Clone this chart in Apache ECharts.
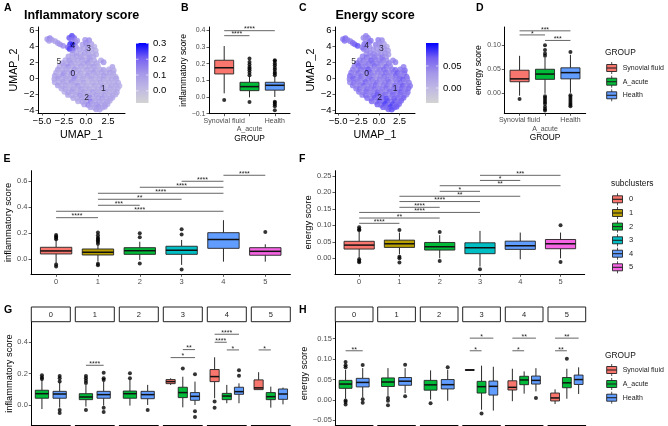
<!DOCTYPE html>
<html><head><meta charset="utf-8">
<style>html,body{margin:0;padding:0;background:#fff}#c{width:668px;height:426px;filter:blur(.4px)}</style>
<script src="https://cdn.jsdelivr.net/npm/echarts@6/dist/echarts.min.js"></script>
</head><body><div id="c"></div>
<script>
// ---------- data ----------
const groupNames = ['Synovial fluid', 'A_acute', 'Health'];
const groupColors = ['#F8766D', '#00BA38', '#619CFF'];
const clusterNames = ['0', '1', '2', '3', '4', '5'];
const clusterColors = ['#F8766D', '#B79F00', '#00BA38', '#00BFC4', '#619CFF', '#F564E3'];

// UMAP cells: [UMAP_1, UMAP_2, inflammatory score, energy score]
const umapCells = [
[-4.4,4.95,.12,.055],[-4.1,5.05,.15,.065],[-4.2,4.72,.11,.06],[-3.85,4.85,.1,.05],[-3.5,4.68,.09,.05],[-3.2,4.45,.11,.06],[-2.95,4.28,.12,.065],[-2.6,4.1,.14,.075],
[-1.6,5.35,.24,.05],[-1.9,5.1,.22,.045],[-1.35,5.1,.2,.05],[-1.65,4.85,.17,.04],[-1.2,4.55,.15,.05],[-1.0,4.75,.12,.055],[-1.8,4.3,.26,.06],[-1.5,4.2,.27,.05],[-2.05,3.9,.2,.05],[-1.15,3.95,.14,.04],[-1.85,3.7,.24,.055],[-1.5,3.55,.2,.045],
[-.1,4.85,.12,.05],[.35,4.8,.14,.045],[-.4,4.25,.1,.05],[0,4.45,.13,.04],[.6,4.35,.09,.03],[.15,4.1,.11,.035],[.95,4.0,.05,.02],[-.7,3.65,.09,.04],[-.25,3.8,.08,.035],[.2,3.6,.1,.03],[.65,3.72,.07,.035],[1.1,3.5,.05,.03],
[-1.55,3.1,.1,.04],[-1.1,3.2,.08,.045],[-.6,3.05,.07,.05],[-.15,3.18,.11,.04],[.3,3.02,.09,.035],[.75,3.15,.06,.04],[1.15,3.0,.06,.03],
[-2.0,2.75,.09,.05],[-1.5,2.62,.07,.06],[-1.05,2.78,.1,.045],[-.55,2.66,.08,.05],[-.05,2.75,.06,.04],[.4,2.62,.09,.05],[.85,2.72,.07,.035],
[-2.35,2.3,.07,.05],[-1.9,2.22,.11,.055],[-1.4,2.36,.06,.04],[-.95,2.25,.08,.065],[-.45,2.34,.09,.05],[0,2.2,.07,.045],[.5,2.33,.1,.055],[.95,2.24,.06,.04],[1.7,2.25,.07,.045],[2.0,2.02,.12,.05],
[-2.7,1.92,.09,.06],[-2.2,1.82,.06,.05],[-1.75,1.95,.1,.04],[-1.25,1.84,.07,.055],[-.8,1.93,.05,.06],[-.3,1.85,.08,.045],[.2,1.96,.11,.05],[.65,1.84,.06,.04],[1.2,1.9,.08,.05],
[-3.0,1.5,.07,.05],[-2.5,1.58,.09,.065],[-2.0,1.44,.13,.045],[-1.55,1.56,.07,.05],[-1.05,1.46,.05,.04],[-.55,1.55,.09,.06],[-.1,1.43,.06,.05],[.4,1.54,.08,.035],[.9,1.46,.1,.06],[1.35,1.55,.06,.045],[3.0,1.45,.09,.05],
[-3.2,1.1,.1,.05],[-2.7,1.02,.06,.04],[-2.25,1.15,.08,.06],[-1.8,1.04,.05,.055],[-1.3,1.12,.11,.07],[-.85,1.03,.07,.045],[-.35,1.14,.05,.04],[.15,1.05,.09,.05],[.6,1.12,.06,.06],[1.1,1.02,.08,.04],[1.6,1.13,.05,.05],[2.0,1.05,.1,.065],[2.6,1.12,.07,.055],[3.15,1.0,.06,.06],
[-3.4,.7,.08,.055],[-2.95,.78,.05,.045],[-2.5,.64,.1,.06],[-2.05,.74,.07,.04],[-1.55,.66,.14,.05],[-1.1,.76,.06,.065],[-.6,.64,.08,.035],[-.15,.75,.04,.05],[.35,.66,.07,.045],[.85,.74,.1,.06],[1.3,.63,.05,.04],[1.75,.76,.08,.055],[2.25,.66,.06,.07],[2.7,.74,.09,.05],[3.1,.64,.07,.06],
[-3.55,.3,.09,.06],[-3.1,.22,.06,.05],[-2.6,.35,.12,.045],[-2.15,.24,.05,.06],[-1.7,.33,.08,.04],[-1.2,.22,.1,.055],[-.75,.34,.06,.05],[-.3,.24,.05,.035],[.2,.32,.09,.045],[.65,.22,.04,.06],[1.15,.34,.07,.05],[1.6,.25,.05,.04],[2.05,.33,.1,.065],[2.55,.22,.07,.05],[3.0,.34,.06,.045],[3.35,.2,.05,.06],
[-3.6,-.1,.07,.05],[-3.15,-.02,.1,.065],[-2.7,-.16,.05,.045],[-2.25,-.04,.08,.055],[-1.8,-.14,.06,.04],[-1.3,-.03,.13,.05],[-.85,-.16,.05,.06],[-.35,-.05,.07,.035],[.1,-.14,.04,.05],[.6,-.03,.08,.045],[1.05,-.16,.05,.055],[1.55,-.04,.06,.04],[2.0,-.15,.09,.05],[2.5,-.03,.04,.06],[2.95,-.16,.07,.07],[3.45,-.06,.08,.05],
[-3.55,-.5,.08,.045],[-3.05,-.58,.06,.06],[-2.6,-.44,.09,.05],[-2.1,-.56,.05,.04],[-1.65,-.46,.11,.065],[-1.2,-.57,.07,.05],[-.7,-.44,.05,.045],[-.25,-.56,.09,.055],[.25,-.45,.03,.04],[.7,-.57,.06,.05],[1.2,-.46,.05,.06],[1.65,-.56,.08,.035],[2.15,-.44,.04,.05],[2.6,-.55,.06,.065],[3.1,-.46,.05,.05],[3.65,-.56,.07,.055],
[-3.2,-.9,.1,.055],[-2.75,-.97,.06,.04],[-2.3,-.84,.08,.05],[-1.85,-.96,.05,.065],[-1.35,-.85,.07,.045],[-.9,-.96,.12,.05],[-.4,-.84,.05,.06],[.05,-.97,.06,.035],[.55,-.85,.04,.05],[1.0,-.95,.08,.055],[1.5,-.86,.05,.04],[1.95,-.97,.07,.06],[2.45,-.84,.04,.05],[2.9,-.95,.06,.07],[3.4,-.86,.08,.05],[3.8,-.95,.05,.055],
[-2.8,-1.3,.07,.05],[-2.35,-1.38,.09,.06],[-1.9,-1.24,.05,.04],[-1.45,-1.36,.08,.055],[-1.0,-1.26,.06,.05],[-.5,-1.37,.1,.065],[-.05,-1.25,.05,.045],[.4,-1.36,.07,.05],[.9,-1.24,.04,.06],[1.35,-1.37,.06,.04],[1.85,-1.26,.09,.055],[2.3,-1.36,.05,.05],[2.8,-1.25,.07,.065],[3.25,-1.37,.05,.045],[3.6,-1.27,.06,.06],
[-2.45,-1.7,.06,.055],[-2.0,-1.77,.08,.04],[-1.55,-1.64,.1,.06],[-1.05,-1.76,.05,.05],[-.6,-1.65,.07,.045],[-.15,-1.77,.09,.065],[.35,-1.64,.05,.05],[.8,-1.76,.11,.04],[1.3,-1.65,.06,.06],[1.75,-1.76,.05,.05],[2.2,-1.64,.08,.055],[2.7,-1.75,.06,.07],[3.15,-1.66,.05,.05],[3.5,-1.76,.07,.06],
[-2.05,-2.1,.09,.05],[-1.6,-2.16,.06,.06],[-1.1,-2.04,.07,.045],[-.65,-2.15,.12,.055],[-.2,-2.05,.06,.07],[.3,-2.16,.08,.05],[.75,-2.04,.05,.06],[1.2,-2.15,.1,.045],[1.7,-2.05,.06,.065],[2.15,-2.16,.09,.05],[2.6,-2.04,.05,.06],[3.05,-2.15,.07,.055],[3.35,-2.05,.06,.05],
[-1.45,-2.5,.08,.06],[-1.0,-2.56,.06,.05],[-.5,-2.44,.09,.07],[-.05,-2.55,.07,.05],[.45,-2.45,.13,.06],[.9,-2.56,.06,.075],[1.4,-2.44,.08,.05],[1.85,-2.55,.11,.065],[2.3,-2.45,.06,.06],[2.75,-2.56,.08,.05],[3.0,-2.46,.07,.065],
[-.9,-2.9,.07,.065],[-.4,-2.96,.1,.05],[.05,-2.84,.08,.07],[.55,-2.95,.16,.06],[1.0,-2.85,.07,.075],[1.5,-2.96,.1,.06],[1.95,-2.85,.06,.07],[2.4,-2.95,.09,.055],[2.7,-2.85,.07,.065],
[-.2,-3.3,.09,.07],[.25,-3.36,.14,.06],[.75,-3.24,.08,.08],[1.2,-3.35,.11,.06],[1.7,-3.26,.07,.075],[2.15,-3.36,.1,.06],[2.45,-3.25,.08,.065],
[.5,-3.65,.1,.07],[.95,-3.7,.08,.06],[1.4,-3.6,.12,.08],[1.85,-3.7,.08,.065],[2.15,-3.6,.09,.07],[1.15,-3.92,.1,.065],[1.55,-3.95,.09,.075]
];
const umapLabelNames = ['0', '1', '2', '3', '4', '5'];
const umapLabelPosA = [[-1.5,.54],[1.96,-1.26],[.08,-2.48],[.3,3.7],[-1.5,4.07],[-3.09,2.09]];
const umapLabelPosC = [[-1.5,.54],[1.96,-1.26],[.08,-2.48],[.3,3.7],[-1.5,4.07],[-3.09,2.09]];
const umapXTicks = [-5, -2.5, 0, 2.5];
const umapYTicks = [-4, -2, 0, 2, 4, 6];
const inflBarTicks = [0, .1, .2, .3];
const energyBarTicks = [0, .05];

// boxes: [low whisker, q1, median, q3, high whisker]
const bBoxes = [[.022,.138,.175,.22,.305],[-.002,.038,.062,.088,.125],[0,.041,.07,.088,.125]];
const bOutliers = [[-.018],[-.03,.13,.145,.16,.17,.18,.195,.21,.23],[-.08,-.055,-.045,-.035,-.028,.13,.14,.15,.165,.175,.19,.2,.215,.22]];
const bBrackets = [[0,2,.397,'****'],[0,1,.367,'****']];
const dBoxes = [[-.005,.024,.03,.048,.078],[-.001,.029,.04,.05,.074],[.001,.03,.043,.053,.08]];
const dOutliers = [[-.012],[-.036,-.033,-.028,-.022,-.018,-.014,-.01,-.006,.078,.083,.09,.1],[-.027,-.024,-.02,-.016,-.012,-.008,-.004,.086]];
const dBrackets = [[0,2,.13,'***'],[0,1,.1215,'*'],[1,2,.11,'***']];

const eBoxes = [[-.03,.041,.064,.092,.148],[-.018,.033,.054,.079,.11],[-.005,.038,.066,.089,.135],[-.043,.038,.069,.1,.148],[-.018,.084,.151,.204,.30],[-.018,.031,.061,.089,.115]];
const eOutliers = [[-.055,-.04,.153,.165,.175,.186],[-.045,-.035,.12,.135,.145,.155,.165,.185,.205],[-.033,.168,.2],[-.079,.19,.23],[],[.21]];
const eBrackets = [[0,1,.319,'****'],[0,4,.368,'****'],[1,2,.414,'***'],[1,3,.46,'**'],[1,4,.506,'****'],[2,4,.552,'****'],[3,4,.598,'****'],[4,5,.644,'****']];

const fBoxes = [[0,.028,.04,.0515,.08],[.012,.033,.044,.055,.078],[0,.025,.035,.048,.07],[-.025,.014,.032,.047,.083],[-.003,.027,.038,.052,.078],[0,.029,.044,.057,.078]];
const fOutliers = [[-.012,-.008,-.003,.085,.088,.094],[-.013,0,.005,.086],[-.008,.08],[-.033],[],[-.011,.1]];
const fBrackets = [[0,1,.106,'****'],[0,2,.122,'**'],[0,3,.139,'****'],[1,2,.1545,'****'],[1,3,.172,'****'],[1,4,.188,'**'],[2,3,.203,'*'],[2,5,.22,'**'],[3,4,.236,'*'],[3,5,.2515,'***']];

const facetGroups = [[1,2],[1,2],[1,2],[0,1,2],[0,1,2],[0,1,2]];
const gBoxes = [
 [[-.026,.043,.072,.094,.16],[-.017,.043,.07,.087,.145]],
 [[-.01,.034,.051,.072,.128],[-.004,.043,.066,.087,.149]],
 [[-.004,.043,.072,.089,.16],[0,.04,.066,.087,.128]],
 [[.128,.136,.149,.162,.17],[-.015,.047,.079,.113,.18],[0,.03,.055,.079,.149]],
 [[.043,.149,.181,.226,.304],[.011,.034,.057,.074,.128],[.011,.068,.085,.113,.138]],
 [[.098,.098,.109,.16,.209],[-.017,.034,.053,.079,.117],[.004,.036,.07,.102,.111]]
];
const gOutliers = [
 [[.165,.175,.19],[-.051,-.032,.15,.17,.185]],
 [[-.032,.14,.155,.17,.185],[-.045,-.017,.16,.17,.206]],
 [[.17,.202],[-.032]],
 [[],[.232],[-.077,-.04,.196]],
 [[-.017,.023],[],[.187,.221]],
 [[],[],[]]
];
const gBrackets = [[],[[0,1,.253,'****']],[],[[0,2,.302,'*'],[1,2,.353,'**']],[[0,1,.4,'****'],[0,2,.451,'****'],[1,2,.351,'*']],[[0,1,.351,'*']]];
const hBoxes = [
 [[.003,.0285,.039,.048,.074],[.0065,.032,.043,.053,.078]],
 [[.009,.033,.044,.054,.078],[.017,.036,.046,.055,.078]],
 [[.001,.024,.037,.048,.0725],[-.002,.027,.0375,.05,.074]],
 [[.0725,.0725,.0733,.0745,.0745],[-.024,.017,.0326,.0456,.084],[-.026,.012,.0334,.0464,.0814]],
 [[-.003,.0244,.031,.047,.0765],[.0155,.0375,.049,.058,.07],[.021,.039,.048,.0586,.078]],
 [[-.01,-.0024,.005,.017,.026],[.003,.03,.042,.055,.0765],[.0147,.038,.05,.061,.08]]
];
const hOutliers = [
 [[-.011,-.005,-.001,.08,.085,.093],[-.0065,.002,.0855]],
 [[-.013,-.002,.005],[.009,.086]],
 [[-.008],[.08]],
 [[],[-.033],[]],
 [[],[],[.005]],
 [[],[.101],[]]
];
const hBrackets = [[[0,1,.1205,'**']],[],[],[[0,1,.1205,'*'],[0,2,.1515,'*']],[[0,1,.1205,'*'],[0,2,.1515,'**']],[[0,1,.1205,'**'],[0,2,.1515,'**']]];

// ---------- layout and style ----------
const FONT = '"Liberation Sans", Arial, sans-serif';
const MINUS = s => String(s).replace('-', '\u2212');
const SCALE = ['#D3D3D3', '#BFB8E4', '#A496E9', '#7560F2', '#0000FF'];
const grids = [], xAxes = [], yAxes = [], series = [], graphics = [];

function addGrid(left, top, width, height) {
  grids.push({left, top, width, height, show: false});
  return grids.length - 1;
}
function axisBase(color, size) {
  return {
    axisLine: {show: true, onZero: false, lineStyle: {color: '#000', width: 1}},
    axisTick: {show: true, length: 2.5, lineStyle: {color: '#333', width: .8}},
    axisLabel: {color, fontSize: size, fontFamily: FONT, margin: 3.5, hideOverlap: false, showMinLabel: true, showMaxLabel: true},
    splitLine: {show: false},
    nameTextStyle: {fontFamily: FONT, color: '#000'},
    nameLocation: 'middle'
  };
}
function valueAxis(gridIndex, min, max, ticks, color, size, fmt) {
  const a = axisBase(color, size);
  a.type = 'value'; a.gridIndex = gridIndex; a.min = min; a.max = max;
  a.axisTick.customValues = ticks;
  a.axisLabel.customValues = ticks;
  a.axisLabel.formatter = fmt || (v => MINUS(v));
  return a;
}
function boxSeries(xi, yi, boxes, outliers, brackets, colors) {
  series.push({
    type: 'custom', xAxisIndex: xi, yAxisIndex: yi, clip: false, z: 3,
    data: boxes.map((b, i) => [i, b[0], b[1], b[2], b[3], b[4], colors[i]]),
    encode: {x: 0, y: [1, 2, 3, 4, 5]},
    renderItem(params, api) {
      const x = api.value(0);
      const hw = api.size([.75, 0])[0] / 2;
      const P = k => api.coord([x, api.value(k)]);
      const lo = P(1), q1 = P(2), md = P(3), q3 = P(4), hi = P(5);
      const ln = (x1, y1, x2, y2, w) => ({type: 'line', shape: {x1, y1, x2, y2}, style: {stroke: '#111', lineWidth: w, fill: null}});
      return {type: 'group', children: [
        ln(lo[0], lo[1], q1[0], q1[1], .9),
        ln(q3[0], q3[1], hi[0], hi[1], .9),
        {type: 'rect', shape: {x: q3[0] - hw, y: q3[1], width: 2 * hw, height: q1[1] - q3[1]},
         style: {fill: api.value(6), stroke: '#222', lineWidth: .9}},
        ln(md[0] - hw, md[1], md[0] + hw, md[1], 1.5)
      ]};
    }
  });
  const pts = [];
  outliers.forEach((list, i) => list.forEach(v => pts.push([i, v])));
  series.push({type: 'scatter', xAxisIndex: xi, yAxisIndex: yi, symbolSize: 4, silent: true, z: 2,
    itemStyle: {color: '#000'}, data: pts});
  series.push({
    type: 'custom', xAxisIndex: xi, yAxisIndex: yi, clip: false, z: 4,
    data: brackets.map(b => [b[0], b[1], b[2], b[3]]),
    encode: {x: [0, 1], y: 2},
    renderItem(params, api) {
      const a = api.coord([api.value(0), api.value(2)]);
      const b = api.coord([api.value(1), api.value(2)]);
      return {type: 'group', children: [
        {type: 'line', shape: {x1: a[0], y1: a[1], x2: b[0], y2: b[1]}, style: {stroke: '#555', lineWidth: .9}},
        {type: 'text', style: {text: brackets[params.dataIndex][3], x: (a[0] + b[0]) / 2, y: a[1] - 1.2,
          align: 'center', verticalAlign: 'middle', fontSize: 7, fontFamily: FONT, fill: '#222'}}
      ]};
    }
  });
}
function yName(axis, name, size, gap) {
  axis.name = name; axis.nameGap = gap; axis.nameRotate = 90;
  axis.nameTextStyle.fontSize = size;
}
function xName(axis, name, size, gap) {
  axis.name = name; axis.nameGap = gap;
  axis.nameTextStyle.fontSize = size;
}
// UMAP panel with its colourbar
function umapPanel(left, width, xmin, xmax, scoreIdx, labels, barLeft, barMin, barMax, barTicks, fmt) {
  const g = addGrid(left, 27, width, 86);
  const xa = valueAxis(g, xmin, xmax, umapXTicks, '#000', 9.5, v => MINUS(v.toFixed(1)));
  const ya = valueAxis(g, -4.38, 6.47, umapYTicks, '#000', 9.5);
  xName(xa, 'UMAP_1', 10.7, 17); yName(ya, 'UMAP_2', 10.7, 17);
  xAxes.push(xa); yAxes.push(ya);
  const xi = xAxes.length - 1, yi = yAxes.length - 1;
  const seriesIndex = series.length;
  series.push({type: 'scatter', xAxisIndex: xi, yAxisIndex: yi, symbolSize: 5.8, silent: true,
    data: umapCells.map(c => [c[0], c[1], c[scoreIdx]]), encode: {x: 0, y: 1}});
  series.push({type: 'scatter', xAxisIndex: xi, yAxisIndex: yi, symbolSize: 1, silent: true, z: 5,
    itemStyle: {color: 'transparent'},
    data: labels.map((p, i) => ({value: p, name: umapLabelNames[i]})),
    label: {show: true, position: 'inside', formatter: '{b}', fontSize: 8.5, fontFamily: FONT, color: '#000'}});
  // colourbar: a gradient rect on its own scale, with labels on the right
  const bar = addGrid(barLeft, 43, 12.5, 60);
  const bx = valueAxis(bar, 0, 1, [], '#000', 8); bx.show = false;
  const by = valueAxis(bar, barMin, barMax, barTicks, '#000', 9.5, fmt);
  by.position = 'right'; by.axisLine.show = false; by.axisTick.show = false;
  by.axisLabel.margin = 4.5;
  xAxes.push(bx); yAxes.push(by);
  series.push({
    type: 'custom', xAxisIndex: xAxes.length - 1, yAxisIndex: yAxes.length - 1, silent: true, clip: false,
    data: [[0, barMin, 1, barMax]], encode: {x: [0, 2], y: [1, 3]},
    renderItem(params, api) {
      const a = api.coord([0, barMin]), b = api.coord([1, barMax]);
      const kids = [{type: 'rect', shape: {x: a[0], y: b[1], width: b[0] - a[0], height: a[1] - b[1]},
        style: {fill: {type: 'linear', x: 0, y: 1, x2: 0, y2: 0,
          colorStops: SCALE.map((color, i) => ({offset: i / (SCALE.length - 1), color}))}}}];
      barTicks.forEach(t => {
        const p = api.coord([0, t]), q = api.coord([1, t]);
        kids.push({type: 'line', shape: {x1: p[0], y1: p[1], x2: p[0] + 2.5, y2: p[1]}, style: {stroke: '#fff', lineWidth: .6}});
        kids.push({type: 'line', shape: {x1: q[0] - 2.5, y1: q[1], x2: q[0], y2: q[1]}, style: {stroke: '#fff', lineWidth: .6}});
      });
      return {type: 'group', children: kids};
    }
  });
  return {
    type: 'continuous', seriesIndex, dimension: 2, min: barMin, max: barMax, show: false,
    inRange: {color: SCALE}
  };
}
function boxPanel(left, width, top, height, xmin, xmax, ymin, ymax, yTicks, cats, lowered, yTitle, nameSize, lblSize, yGap, xTitle, boxes, out, br, colors) {
  const g = addGrid(left, top, width, height);
  const ticks = cats.map((c, i) => i);
  const xa = valueAxis(g, xmin, xmax, ticks, '#4d4d4d', lblSize, v => cats[v]);
  xa.position = 'bottom';
  xa.axisLabel.customValues = ticks.filter(t => t !== lowered);
  const ya = valueAxis(g, ymin, ymax, yTicks, '#4d4d4d', lblSize, v => MINUS(yTicks.dec ? v.toFixed(yTicks.dec) : v.toFixed(1)));
  if (xTitle) xName(xa, xTitle, 8.4, 20.5);
  yName(ya, yTitle, nameSize, yGap);
  xAxes.push(xa); yAxes.push(ya);
  const xi = xAxes.length - 1, yi = yAxes.length - 1;
  boxSeries(xi, yi, boxes, out, br, colors);
  if (lowered !== null) {
    // the dodged category label sits on a second row, as a second axis on the same scale
    const x2 = valueAxis(g, xmin, xmax, [lowered], '#4d4d4d', lblSize, v => cats[v]);
    x2.position = 'bottom'; x2.axisLine.show = false; x2.axisTick.show = false;
    x2.axisLabel.margin = 11.8;
    xAxes.push(x2);
  }
}
function facets(lefts, width, ymin, ymax, yTicks, yTitle, yGap, boxes, outs, brs) {
  lefts.forEach((l, f) => {
    const g = addGrid(l, 322, width, 103);
    const n = facetGroups[f].length;
    const xa = valueAxis(g, -.6, n - .4, [], '#4d4d4d', 7);
    xa.axisTick.show = false; xa.axisLabel.show = false;
    const ya = valueAxis(g, ymin, ymax, yTicks, '#4d4d4d', 7.5, v => MINUS(yTicks.dec ? v.toFixed(yTicks.dec) : v.toFixed(1)));
    if (f === 0) yName(ya, yTitle, 9.3, yGap);
    else ya.show = false;
    xAxes.push(xa); yAxes.push(ya);
    boxSeries(xAxes.length - 1, yAxes.length - 1, boxes[f], outs[f], brs[f], facetGroups[f].map(k => groupColors[k]));
    graphics.push({type: 'rect', shape: {x: l, y: 307, width, height: 14.7}, style: {fill: '#fff', stroke: '#222', lineWidth: 1}});
    graphics.push({type: 'text', style: {text: clusterNames[f], x: l + width / 2, y: 314.5, align: 'center', verticalAlign: 'middle',
      fontSize: 7.5, fontFamily: FONT, fill: '#222'}});
  });
}
function label(text, x, y, size, bold, color) {
  graphics.push({type: 'text', style: {text, x, y, verticalAlign: 'middle', align: 'left', fontSize: size,
    fontFamily: FONT, fontWeight: bold ? 'bold' : 'normal', fill: color || '#000'}});
}
function legend(title, x, titleY, keyX, textX, ys, names, colors, tsize) {
  label(title, x, titleY, 8.4, false, '#111');
  ys.forEach((y, i) => {
    const cx = keyX + 5;
    graphics.push({type: 'line', shape: {x1: cx, y1: y - 6, x2: cx, y2: y + 6}, style: {stroke: '#222', lineWidth: .8}});
    graphics.push({type: 'rect', shape: {x: keyX, y: y - 3.5, width: 10, height: 7}, style: {fill: colors[i], stroke: '#222', lineWidth: .9}});
    graphics.push({type: 'line', shape: {x1: keyX, y1: y, x2: keyX + 10, y2: y}, style: {stroke: '#222', lineWidth: 1.1}});
    label(names[i], textX, y, tsize, false, '#222');
  });
}

// ---------- panels ----------
const vmA = umapPanel(38, 87, -5.45, 4.43, 2, umapLabelPosA, 136, -.077, .303, inflBarTicks, v => v.toFixed(1));
const vmC = umapPanel(335, 80, -5.37, 4.39, 3, umapLabelPosC, 426, -.034, .102, energyBarTicks, v => v.toFixed(2));

const tB = [-.1, 0, .1, .2, .3, .4];
boxPanel(209, 81, 27, 86.7, -.6, 2.6, -.1, .419, tB, groupNames, 1, 'inflammatory score', 8.6, 7, 16.5, 'GROUP', bBoxes, bOutliers, bBrackets, groupColors);
const tD = [0, .05, .1]; tD.dec = 2;
boxPanel(504.3, 81.4, 27, 86.3, -.6, 2.6, -.0417, .138, tD, groupNames, 1, 'energy score', 8.6, 7, 20, 'GROUP', dBoxes, dOutliers, dBrackets, groupColors);
const tE = [0, .2, .4, .6];
boxPanel(31, 259.4, 170.7, 103.6, -.6, 5.6, -.115, .679, tE, clusterNames, null, 'inflammatory score', 9.4, 7.5, 14, null, eBoxes, eOutliers, eBrackets, clusterColors);
const tF = [0, .05, .1, .15, .2, .25]; tF.dec = 2;
boxPanel(335, 249.7, 170.7, 103.6, -.6, 5.6, -.0485, .2655, tF, clusterNames, null, 'energy score', 9.4, 7.5, 20, null, fBoxes, fOutliers, fBrackets, clusterColors);

const tG = [0, .2, .4];
facets([31.3, 75.3, 119.3, 163.3, 207.3, 251.3], 39, -.1276, .529, tG, 'inflammatory score', 14, gBoxes, gOutliers, gBrackets);
const tH = [-.05, 0, .05, .1, .15]; tH.dec = 2;
facets([335.3, 377.7, 420.3, 462.7, 505.3, 548], 37.7, -.0613, .191, tH, 'energy score', 24, hBoxes, hOutliers, hBrackets);

// ---------- titles, panel letters, legends ----------
label('Inflammatory score', 24, 15.5, 12.5, true);
label('Energy score', 335.5, 15.5, 12.5, true);
[['A',4,8],['B',181,8],['C',299,8],['D',476,8],['E',3.5,159.5],['F',299,159.5],['G',4,310],['H',299,310]]
  .forEach(p => label(p[0], p[1], p[2], 10.5, true));
legend('GROUP', 605, 53, 606.7, 622.7, [68, 81.7, 95.3], groupNames, groupColors, 7);
legend('subclusters', 611, 184, 612.5, 629, [199.3, 213, 226.6, 240.3, 253.7, 267.3], clusterNames, clusterColors, 7.5);
legend('GROUP', 605, 355.3, 606.7, 622.7, [370, 384, 397.7], groupNames, groupColors, 7);

echarts.init(document.getElementById('c'), null, {width: 668, height: 426}).setOption({
  animation: false, backgroundColor: '#fff',
  grid: grids, xAxis: xAxes, yAxis: yAxes, series,
  visualMap: [vmA, vmC],
  graphic: {elements: graphics}
});
</script></body></html>
